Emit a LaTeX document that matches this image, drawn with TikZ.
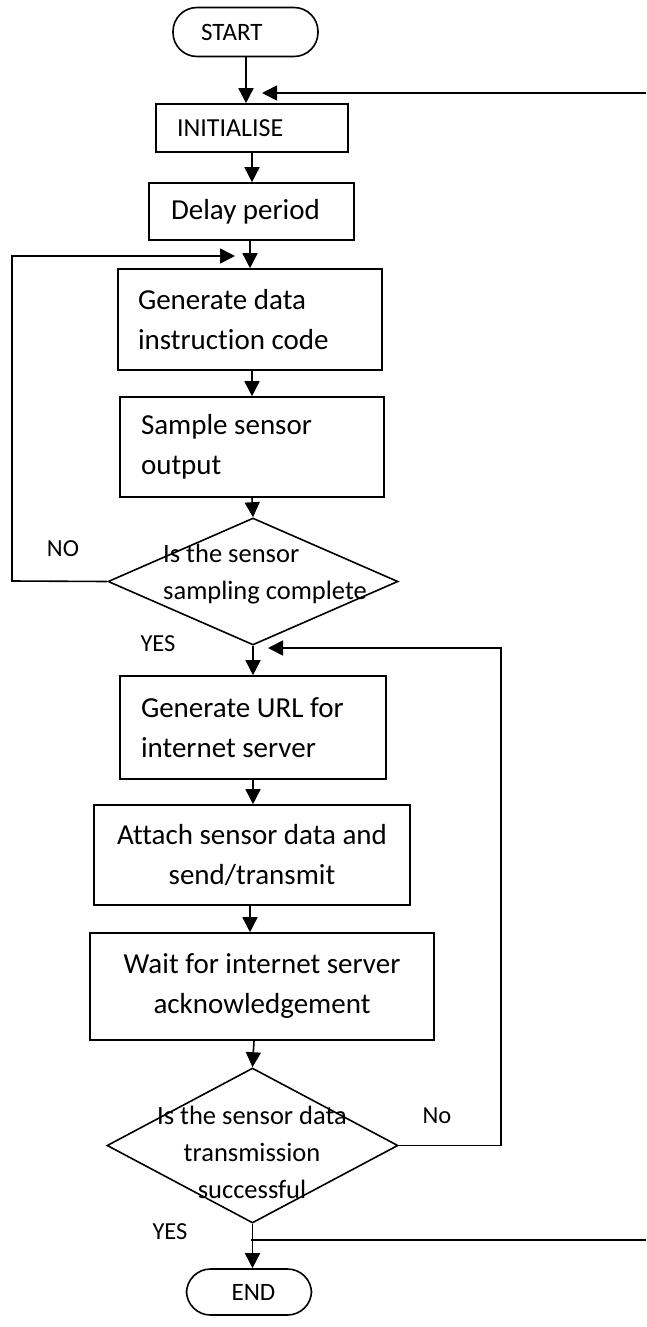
\documentclass[tikz,border=0pt]{standalone}
\usepackage{fontspec}
\setmainfont[Ligatures=NoCommon]{Carlito}
\usetikzlibrary{arrows.meta,shapes.geometric}

\tikzset{
  flow/.style={line width=1.6pt},
  arr/.style={flow,-{Triangle[length=15pt,width=15pt]}},
  procbox/.style={draw,line width=1.6pt,rectangle,inner ysep=0pt,
    font=\fontsize{29}{40}\selectfont},
  termbox/.style={draw,line width=1.6pt,rectangle,rounded corners=24pt,inner ysep=0pt,
    font=\fontsize{25}{30}\selectfont},
  decision/.style={draw,line width=1.6pt,diamond,inner sep=0pt},
  dtext/.style={font=\fontsize{26.5}{37}\selectfont,inner sep=0pt},
  lbl/.style={font=\fontsize{24.5}{30}\selectfont,inner sep=0pt},
}

\begin{document}
\begin{tikzpicture}[x=1pt,y=-1pt]
\useasboundingbox (0,0) rectangle (646,1327);

% terminals and process boxes
\node[termbox,minimum width=145pt,minimum height=49pt,text width=89pt,inner xsep=28pt,align=flush left]
  (start) at (245.5,32) {START};
\node[procbox,minimum width=192pt,minimum height=48pt,text width=150pt,inner xsep=21pt,align=flush left,
  font=\fontsize{26}{30}\selectfont] (init) at (252,128) {INITIALISE};
\node[procbox,minimum width=205pt,minimum height=57pt,text width=161pt,inner xsep=22pt,align=flush left]
  (delay) at (251.5,211.5) {Delay period};
\node[procbox,minimum width=264pt,minimum height=101pt,text width=224pt,inner xsep=20pt,align=flush left]
  (gen) at (250,319.5) {Generate data\\instruction code};
\node[procbox,minimum width=264pt,minimum height=100pt,text width=222pt,inner xsep=21pt,align=flush left]
  (sample) at (252,447) {Sample sensor\\output};

% first decision
\node[decision,minimum width=290pt,minimum height=127pt] (dec1) at (253,581.5) {};
\node[dtext,anchor=west,align=flush left] (dec1txt) at (163,574) {Is the sensor\\sampling complete};

\node[procbox,minimum width=266pt,minimum height=103pt,text width=224pt,inner xsep=21pt,align=flush left]
  (url) at (253,727.5) {Generate URL for\\internet server};
\node[procbox,minimum width=316pt,minimum height=100pt,align=center,inner xsep=0pt]
  (attach) at (252,855) {Attach sensor data and\\send/transmit};
\node[procbox,minimum width=344pt,minimum height=107pt,align=center,inner xsep=0pt]
  (wait) at (262,986.5) {Wait for internet server\\acknowledgement};

% second decision
\node[decision,minimum width=291pt,minimum height=155pt] (dec2) at (252.5,1145.5) {};
\node[dtext,align=center] (dec2txt) at (252,1152.5) {Is the sensor data\\transmission\\successful};

\node[termbox,minimum width=125pt,minimum height=46pt,align=center]
  (end) at (249,1292) {\hspace*{9pt}END};

% branch labels
\node[lbl] (no1) at (63,549) {NO};
\node[lbl] (yes1) at (158,644) {YES};
\node[lbl] (no2) at (437,1116) {No};
\node[lbl] (yes2) at (170,1232) {YES};

% free ends of the return line at the right edge
\coordinate (retTop) at (646,93);
\coordinate (retTip) at (262,93);
\coordinate (retBot) at (646,1240);
\coordinate (split) at (251,1240);

% main flow
\draw[arr] (start.south -| 246,0) -- (init.north -| 246,0);
\draw[arr] (init.south -| 252,0) -- (delay.north -| 252,0);
\draw[arr] (delay.south -| 250,0) -- (gen.north -| 250,0);
\draw[arr] (gen.south -| 252,0) -- (sample.north -| 252,0);
\draw[arr] (sample.south -| 252,0) -- (dec1.north);
\draw[arr] (dec1.south) -- (url.north -| dec1.south);
\draw[arr] (url.south -| 253,0) -- (attach.north -| 253,0);
\draw[arr] (attach.south -| 250,0) -- (wait.north -| 250,0);
\draw[arr] (wait.south -| 254,0) -- (dec2.north);
\draw[arr] (dec2.south) -- (end.north -| dec2.south);

% loops
\draw[arr] (dec1.west) -- (12,581) -- (12,256) -- (235,256);
\draw[arr] (dec2.east) -- (501,1145.5) -- (501,648) -- (268,648);
\draw[arr] (retTop) -- (retTip);
\draw[flow] (split) -- (retBot);
\end{tikzpicture}
\end{document}
